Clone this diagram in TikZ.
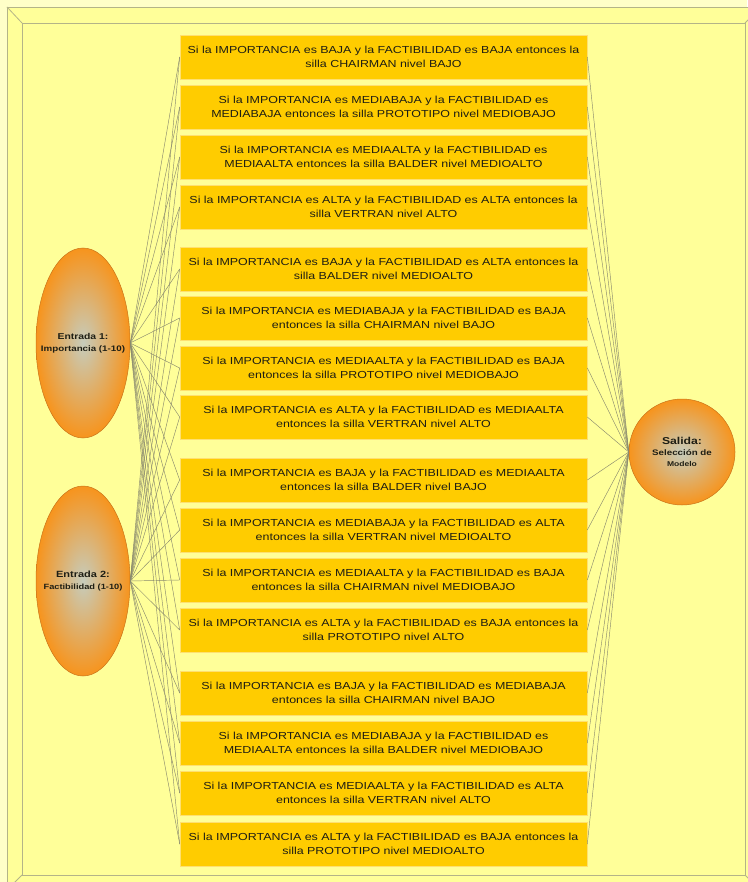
\documentclass[tikz,border=0pt]{standalone}
\usepackage{fontspec}
\setmainfont{Liberation Sans}[FakeStretch=1.22]
\usepackage{xcolor}
\usepackage{tikz}
\usetikzlibrary{positioning,shapes.geometric}
\definecolor{paper}{HTML}{FFFFC8}
\definecolor{panel}{HTML}{FFFF99}
\definecolor{frameln}{HTML}{B4B488}
\definecolor{gold}{HTML}{FFCC00}
\definecolor{goldedge}{HTML}{FFE070}
\definecolor{orng}{HTML}{F7941D}
\definecolor{orngedge}{HTML}{C8741A}
\definecolor{core}{HTML}{C6CCBC}
\definecolor{wirec}{HTML}{8A8A6E}
\definecolor{txt}{HTML}{1E1E14}
\tikzset{
  rulebox/.style={rectangle, draw=goldedge, fill=gold, line width=0.6pt,
    align=center, text=txt, font=\fontsize{10.2}{14}\selectfont,
    minimum height=44pt, text width=400pt, inner sep=3.5pt},
  inp/.style={ellipse, draw=orngedge, line width=0.5pt, inner color=core, outer color=orng,
    minimum width=94pt, minimum height=190pt, inner sep=0pt},
  inptxt/.style={align=center, text=txt, inner sep=0pt, font=\bfseries},
  outp/.style={circle, draw=orngedge, line width=0.5pt, inner color=core, outer color=orng,
    minimum size=106pt, inner sep=0pt, align=center, text=txt},
  wire/.style={draw=wirec, line width=0.45pt},
  framel/.style={draw=frameln, line width=0.8pt},
}

\begin{document}
\begin{tikzpicture}[x=1pt, y=-1pt]
\useasboundingbox (0,0) rectangle (747,882);
% ---- fondo y marco ----
\fill[paper] (0,0) rectangle (747,882);
\fill[panel] (7,7) rectangle (760,895);
\draw[framel] (7,7) rectangle (760,895);
\draw[framel] (22,23) rectangle (745,875);
\draw[framel] (7,7)--(22,23); \draw[framel] (22,875)--(7,890);
\draw[framel] (745,23)--(760,8); \draw[framel] (745,875)--(760,890);
% ---- entradas y salida ----
\node[inp] (imp) at (83,343) {};
\node[inptxt] at (imp.center) {\fontsize{8.5}{10}\selectfont Entrada 1:\\
  \fontsize{8}{10}\selectfont Importancia (1-10)};
\node[inp] (fac) at (83,581) {};
\node[inptxt] at (fac.center) {\fontsize{9}{11}\selectfont Entrada 2:\\
  \fontsize{7.6}{10}\selectfont Factibilidad (1-10)};
\node[outp] (sel) at (682,452) {\fontsize{10}{12}\selectfont\bfseries Salida:\\[-1pt]
  \fontsize{8}{10}\selectfont\bfseries Selección de\\[-1pt]
  \fontsize{7}{9}\selectfont\bfseries Modelo};
% ---- grupo 1 ----
\node[rulebox] (r1) at (383.5,57) {Si la IMPORTANCIA es BAJA y la FACTIBILIDAD es BAJA entonces la\\silla CHAIRMAN nivel BAJO};
\node[rulebox] (r2) at (383.5,107) {Si la IMPORTANCIA es MEDIABAJA y la FACTIBILIDAD es\\MEDIABAJA entonces la silla PROTOTIPO nivel MEDIOBAJO};
\node[rulebox] (r3) at (383.5,157) {Si la IMPORTANCIA es MEDIAALTA y la FACTIBILIDAD es\\MEDIAALTA entonces la silla BALDER nivel MEDIOALTO};
\node[rulebox] (r4) at (383.5,207) {Si la IMPORTANCIA es ALTA y la FACTIBILIDAD es ALTA entonces la\\silla VERTRAN nivel ALTO};
% ---- grupo 2 ----
\node[rulebox] (r5) at (383.5,269) {Si la IMPORTANCIA es BAJA y la FACTIBILIDAD es ALTA entonces la\\silla BALDER nivel MEDIOALTO};
\node[rulebox] (r6) at (383.5,318) {Si la IMPORTANCIA es MEDIABAJA y la FACTIBILIDAD es BAJA\\entonces la silla CHAIRMAN nivel BAJO};
\node[rulebox] (r7) at (383.5,368) {Si la IMPORTANCIA es MEDIAALTA y la FACTIBILIDAD es BAJA\\entonces la silla PROTOTIPO nivel MEDIOBAJO};
\node[rulebox] (r8) at (383.5,417) {Si la IMPORTANCIA es ALTA y la FACTIBILIDAD es MEDIAALTA\\entonces la silla VERTRAN nivel ALTO};
% ---- grupo 3 ----
\node[rulebox] (r9) at (383.5,480) {Si la IMPORTANCIA es BAJA y la FACTIBILIDAD es MEDIAALTA\\entonces la silla BALDER nivel BAJO};
\node[rulebox] (r10) at (383.5,530) {Si la IMPORTANCIA es MEDIABAJA y la FACTIBILIDAD es ALTA\\entonces la silla VERTRAN nivel MEDIOALTO};
\node[rulebox] (r11) at (383.5,580) {Si la IMPORTANCIA es MEDIAALTA y la FACTIBILIDAD es BAJA\\entonces la silla CHAIRMAN nivel MEDIOBAJO};
\node[rulebox] (r12) at (383.5,630) {Si la IMPORTANCIA es ALTA y la FACTIBILIDAD es BAJA entonces la\\silla PROTOTIPO nivel ALTO};
% ---- grupo 4 ----
\node[rulebox] (r13) at (383.5,693) {Si la IMPORTANCIA es BAJA y la FACTIBILIDAD es MEDIABAJA\\entonces la silla CHAIRMAN nivel BAJO};
\node[rulebox] (r14) at (383.5,743) {Si la IMPORTANCIA es MEDIABAJA y la FACTIBILIDAD es\\MEDIAALTA entonces la silla BALDER nivel MEDIOBAJO};
\node[rulebox] (r15) at (383.5,793) {Si la IMPORTANCIA es MEDIAALTA y la FACTIBILIDAD es ALTA\\entonces la silla VERTRAN nivel ALTO};
\node[rulebox] (r16) at (383.5,844) {Si la IMPORTANCIA es ALTA y la FACTIBILIDAD es BAJA entonces la\\silla PROTOTIPO nivel MEDIOALTO};
% ---- conexiones ----
\draw[wire] (imp.east)--(r1.west); \draw[wire] (fac.east)--(r1.west); \draw[wire] (r1.east)--(sel.west);
\draw[wire] (imp.east)--(r2.west); \draw[wire] (fac.east)--(r2.west); \draw[wire] (r2.east)--(sel.west);
\draw[wire] (imp.east)--(r3.west); \draw[wire] (fac.east)--(r3.west); \draw[wire] (r3.east)--(sel.west);
\draw[wire] (imp.east)--(r4.west); \draw[wire] (fac.east)--(r4.west); \draw[wire] (r4.east)--(sel.west);
\draw[wire] (imp.east)--(r5.west); \draw[wire] (fac.east)--(r5.west); \draw[wire] (r5.east)--(sel.west);
\draw[wire] (imp.east)--(r6.west); \draw[wire] (fac.east)--(r6.west); \draw[wire] (r6.east)--(sel.west);
\draw[wire] (imp.east)--(r7.west); \draw[wire] (fac.east)--(r7.west); \draw[wire] (r7.east)--(sel.west);
\draw[wire] (imp.east)--(r8.west); \draw[wire] (fac.east)--(r8.west); \draw[wire] (r8.east)--(sel.west);
\draw[wire] (imp.east)--(r9.west); \draw[wire] (fac.east)--(r9.west); \draw[wire] (r9.east)--(sel.west);
\draw[wire] (imp.east)--(r10.west); \draw[wire] (fac.east)--(r10.west); \draw[wire] (r10.east)--(sel.west);
\draw[wire] (imp.east)--(r11.west); \draw[wire] (fac.east)--(r11.west); \draw[wire] (r11.east)--(sel.west);
\draw[wire] (imp.east)--(r12.west); \draw[wire] (fac.east)--(r12.west); \draw[wire] (r12.east)--(sel.west);
\draw[wire] (imp.east)--(r13.west); \draw[wire] (fac.east)--(r13.west); \draw[wire] (r13.east)--(sel.west);
\draw[wire] (imp.east)--(r14.west); \draw[wire] (fac.east)--(r14.west); \draw[wire] (r14.east)--(sel.west);
\draw[wire] (imp.east)--(r15.west); \draw[wire] (fac.east)--(r15.west); \draw[wire] (r15.east)--(sel.west);
\draw[wire] (imp.east)--(r16.west); \draw[wire] (fac.east)--(r16.west); \draw[wire] (r16.east)--(sel.west);
\end{tikzpicture}
\end{document}
